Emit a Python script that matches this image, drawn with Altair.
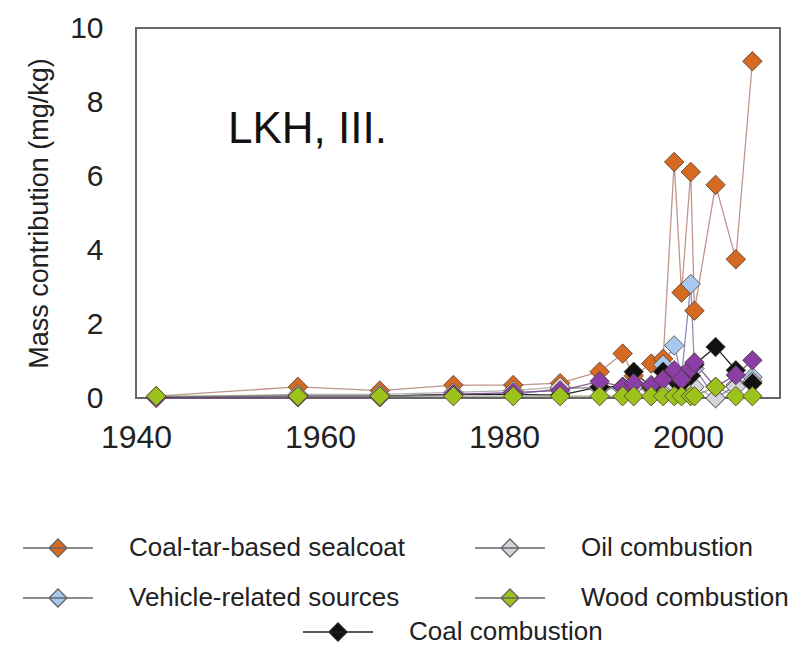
import altair as alt
import pandas as pd

# ---- data ----
years = [1942.2, 1957.6, 1966.5, 1974.5, 1981.0, 1986.1, 1990.4, 1992.9, 1994.1,
         1996.0, 1997.3, 1998.5, 1999.3, 2000.3, 2000.7, 2003.0, 2005.2, 2007.0]

sealcoat = [0.05, 0.30, 0.20, 0.35, 0.35, 0.40, 0.71, 1.20, 0.60,
            0.93, 1.06, 6.38, 2.85, 6.11, 2.36, 5.76, 3.75, 9.10]
vehicle = [0.02, 0.05, 0.05, 0.10, 0.10, 0.25, 0.30, 0.30, 0.30,
           0.30, 0.90, 1.42, 0.60, 3.08, 0.80, 0.00, 0.35, 0.57]
oil = [0.02, 0.10, 0.10, 0.15, 0.20, 0.30, 0.25, 0.25, 0.30,
       0.25, 0.30, 0.35, 0.30, 0.35, 0.30, 0.00, 0.30, 0.45]
unlabeled = [0.00, 0.02, 0.02, 0.10, 0.15, 0.20, 0.45, 0.30, 0.40,
             0.35, 0.50, 0.75, 0.50, 0.80, 0.96, 0.30, 0.62, 1.02]
coal = [0.02, 0.05, 0.05, 0.10, 0.10, 0.08, 0.30, 0.30, 0.71,
        0.30, 0.71, 0.50, 0.40, 0.60, 0.90, 1.38, 0.75, 0.40]
wood = [0.05, 0.05, 0.05, 0.05, 0.05, 0.05, 0.05, 0.05, 0.05,
        0.05, 0.05, 0.05, 0.05, 0.05, 0.05, 0.30, 0.05, 0.05]

names = ["Coal-tar-based sealcoat", "Vehicle-related sources", "Oil combustion",
         "Coal combustion", "Unlabeled source", "Wood combustion"]
series_values = [sealcoat, vehicle, oil, coal, unlabeled, wood]
fill_colors = ["#d66a22", "#a9c8f0", "#d4d4dc", "#111111", "#8b3ea6", "#9cc21c"]
line_colors = ["#b88a80", "#8080ae", "#a8a8a8", "#111111", "#7a4a8a", "#8c9c7c"]

# legend fills column by column: (sealcoat, vehicle) | (oil, wood)
legend_a_values = ["Coal-tar-based sealcoat", "Vehicle-related sources",
                   "Oil combustion", "Wood combustion"]
panel_label = "LKH, III."

rows = []
for k, (nm, vals) in enumerate(zip(names, series_values)):
    for yr, v in zip(years, vals):
        rows.append({"series": nm, "year": yr, "value": v, "k": k})
df = pd.DataFrame(rows)
color_of = dict(zip(names, fill_colors))

x_enc = alt.X("year:Q", scale=alt.Scale(domain=[1940, 2010], nice=False, zero=False),
              axis=alt.Axis(values=[1940, 1960, 1980, 2000], format="d", title=None,
                            grid=False, ticks=False, domain=False, labelFontSize=32,
                            labelFlush=False, labelPadding=24, labelColor="#222",
                            labelFont="Liberation Sans"))
y_enc = alt.Y("value:Q", scale=alt.Scale(domain=[0, 10], nice=False),
              axis=alt.Axis(values=[0, 2, 4, 6, 8, 10], title="Mass contribution (mg/kg)",
                            grid=False, ticks=False, domain=False, labelFontSize=30,
                            labelFlush=False, labelPadding=33, labelColor="#222",
                            labelFont="Liberation Sans",
                            titleFontSize=27, titleFontWeight="normal", titleColor="#222",
                            titleFont="Liberation Sans", titlePadding=16))

sym_path = "M-1.75,0L1.75,0M0,-0.45L0.45,0L0,0.45L-0.45,0Z"

base = alt.Chart(df)

lines = base.mark_line(strokeWidth=1.3, opacity=0.9).encode(
    x=x_enc, y=y_enc,
    stroke=alt.Stroke("series:N", scale=alt.Scale(domain=names, range=line_colors), legend=None),
    order="year:Q",
)

pt_kw = dict(shape="diamond", filled=True, size=380, stroke="#4a3b30",
             strokeWidth=0.8, opacity=1)

leg_common = dict(title=None, orient="none", symbolType=sym_path, symbolSize=1600,
                  symbolStrokeWidth=1.4, labelFontSize=26, labelFont="Liberation Sans",
                  labelColor="#222", labelOffset=50, labelLimit=500, padding=0, offset=0)

main_domain = legend_a_values + ["Unlabeled source"]
p1 = base.transform_filter(
    alt.FieldOneOfPredicate(field="series", oneOf=names[:3])
).mark_point(**pt_kw).encode(
    x="year:Q", y="value:Q",
    fill=alt.Fill("series:N",
                  scale=alt.Scale(domain=main_domain, range=[color_of[n] for n in main_domain]),
                  legend=alt.Legend(values=legend_a_values, legendX=-99, legendY=499,
                                    columns=2, columnPadding=66, rowPadding=16,
                                    symbolStrokeColor="#666", **leg_common)),
)

p2 = base.transform_filter(alt.datum.series == "Coal combustion").mark_point(**pt_kw).encode(
    x="year:Q", y="value:Q",
    fill=alt.Fill("series:N", scale=alt.Scale(domain=["Coal combustion"], range=["#111111"]),
                  legend=alt.Legend(legendX=181, legendY=583, symbolStrokeColor="#222",
                                    **leg_common)),
)

top_names = ["Unlabeled source", "Wood combustion"]
p3 = base.transform_filter(
    alt.FieldOneOfPredicate(field="series", oneOf=top_names)
).mark_point(**pt_kw).encode(
    x="year:Q", y="value:Q",
    fill=alt.Fill("series:N",
                  scale=alt.Scale(domain=top_names, range=[color_of[n] for n in top_names]),
                  legend=None),
)

label_df = pd.DataFrame({"year": [1950.0], "value": [6.9], "text": [panel_label]})
label = alt.Chart(label_df).mark_text(
    align="left", baseline="alphabetic", fontSize=44, font="Liberation Sans", color="#111"
).encode(x="year:Q", y="value:Q", text="text:N")

chart = alt.layer(lines, p1, p2, p3, label).resolve_scale(
    fill="independent", stroke="independent"
).properties(
    width=644, height=370,
    padding={"left": 128, "top": 20, "right": 16, "bottom": 250},
    autosize=alt.AutoSizeParams(type="none"),
).configure_view(stroke="#666", strokeWidth=2)

chart.save("out.html", embed_options={"renderer": "svg", "actions": False})
